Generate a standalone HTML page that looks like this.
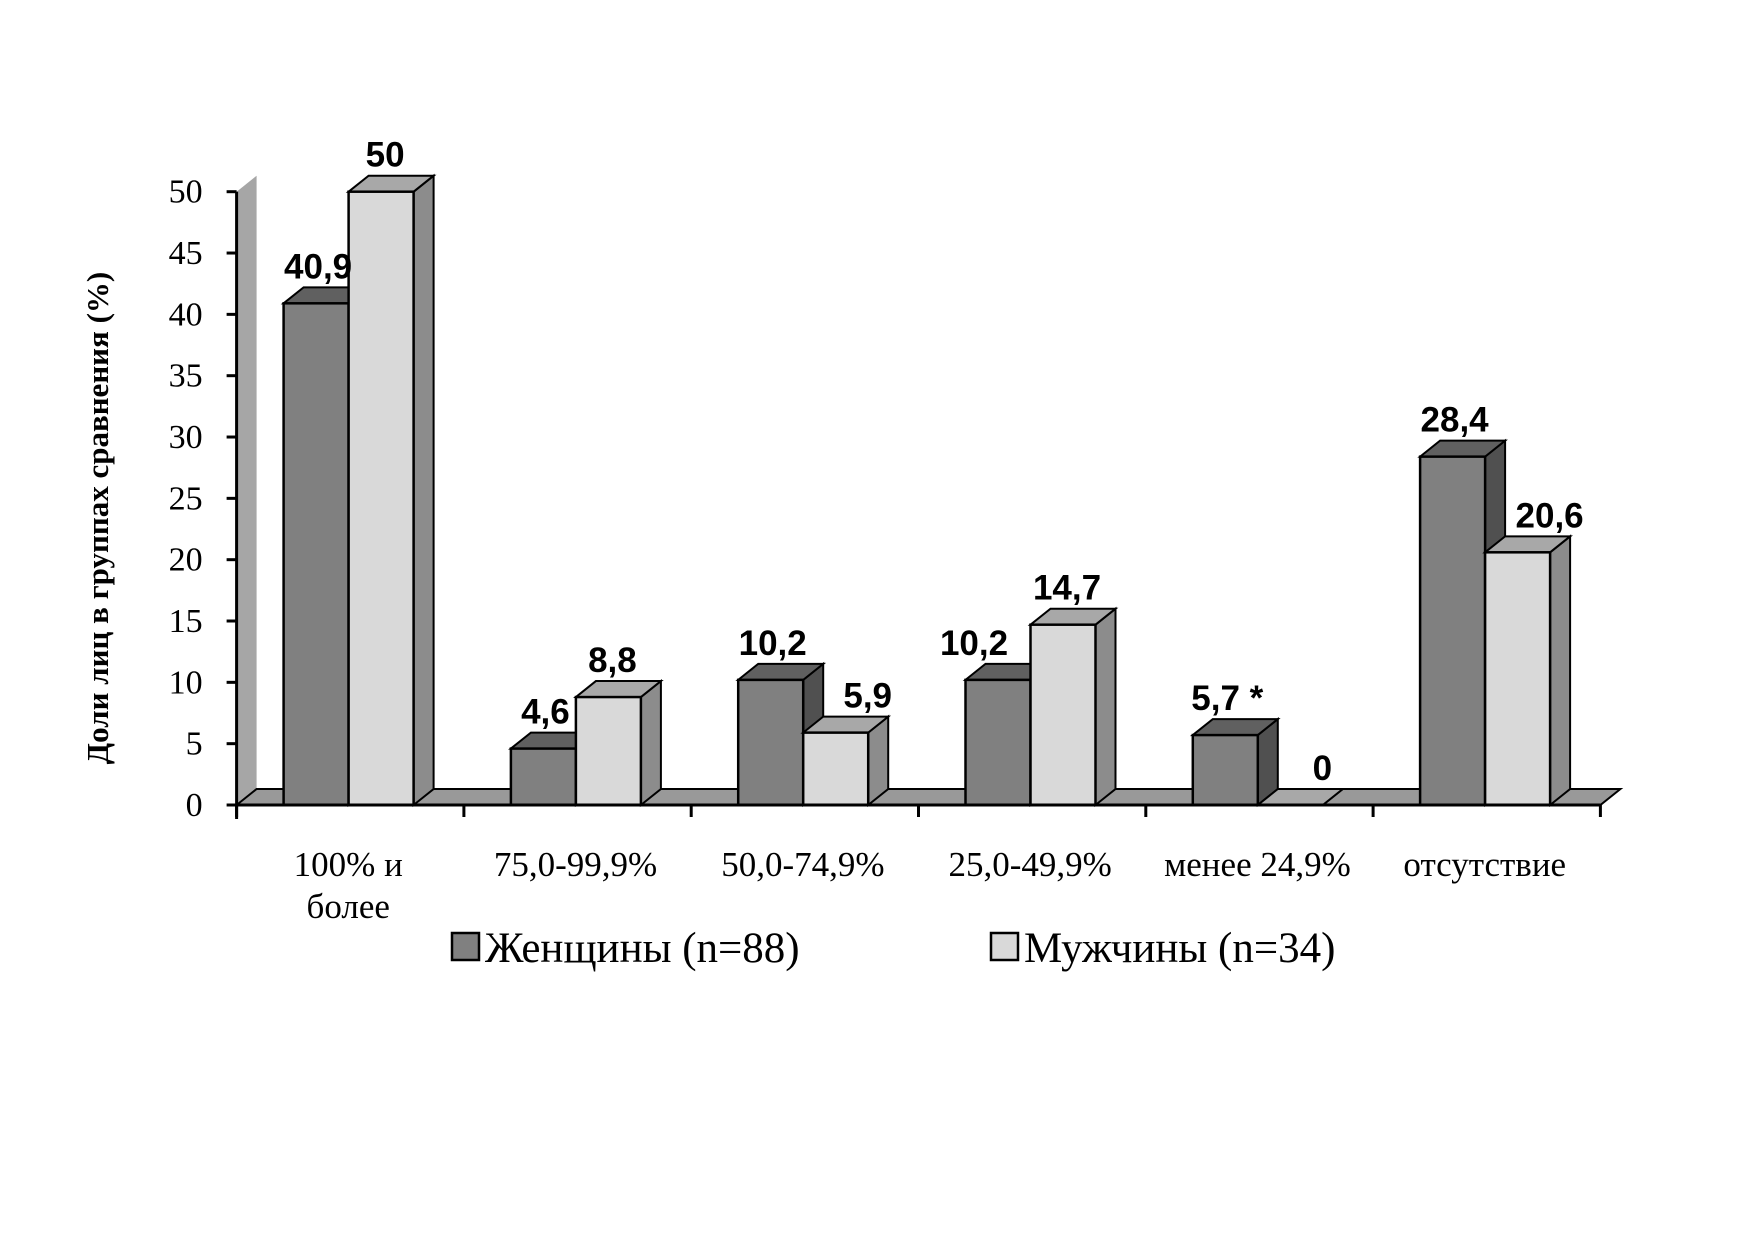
<!DOCTYPE html>
<html><head><meta charset="utf-8">
<style>
html,body{margin:0;padding:0;background:#fff;}
svg{display:block;}
</style></head>
<body>
<svg id="chart" width="1749" height="1241" viewBox="0 0 1749 1241" xmlns="http://www.w3.org/2000/svg"></svg>
<script>
const categories = [["100% и","более"],["75,0-99,9%"],["50,0-74,9%"],["25,0-49,9%"],["менее 24,9%"],["отсутствие"]];
const women = [40.9, 4.6, 10.2, 10.2, 5.7, 28.4];
const men = [50, 8.8, 5.9, 14.7, 0, 20.6];
const womenLabels = ["40,9","4,6","10,2","10,2","5,7 *","28,4"];
const menLabels = ["50","8,8","5,9","14,7","0","20,6"];
const yTicks = [0,5,10,15,20,25,30,35,40,45,50];

const svg = document.getElementById('chart');
const NS = 'http://www.w3.org/2000/svg';
const X0 = 236.6, CW = 227.3, Y0 = 805, YMAX = 50, YH = 805 - 191.7;
const DX = 20, DY = 16, BW = 65, OFF = 47;
function y(v){ return Y0 - v / YMAX * YH; }
function catX(i){ return X0 + i * CW; }
function el(tag, attrs, parent){
  const e = document.createElementNS(NS, tag);
  for (const k in attrs) e.setAttribute(k, attrs[k]);
  (parent || svg).appendChild(e);
  return e;
}
const F = '"Liberation Serif", "DejaVu Serif", serif';
const FS = '"Liberation Sans", "DejaVu Sans", sans-serif';

const wall = el('polygon', {points:`${X0},${Y0} ${X0+DX},${Y0-DY} ${X0+DX},${y(YMAX)-DY} ${X0},${y(YMAX)}`, fill:'#a6a6a6'});


const xEnd = catX(categories.length);
const floor = el('polygon', {points:`${X0},${Y0} ${X0+DX},${Y0-DY} ${xEnd+DX},${Y0-DY} ${xEnd},${Y0}`, fill:'#999', stroke:'#000', 'stroke-width':2});



function bar(x, v, front, top, side, name){
  const g = el('g', {});
  
  
  const yt = y(v);
  el('polygon', {points:`${x+BW},${Y0} ${x+BW+DX},${Y0-DY} ${x+BW+DX},${yt-DY} ${x+BW},${yt}`, fill:side, stroke:'#000','stroke-width':2}, g);
  el('polygon', {points:`${x},${yt} ${x+DX},${yt-DY} ${x+BW+DX},${yt-DY} ${x+BW},${yt}`, fill:top, stroke:'#000','stroke-width':2}, g);
  if (v > 0) el('rect', {x:x, y:yt, width:BW, height:Y0-yt, fill:front, stroke:'#000','stroke-width':2.5}, g);
}
function label(cx, v, txt, name){
  const t = el('text', {x:cx, y:y(v)-DY-9, 'text-anchor':'middle', 'font-family':FS, 'font-weight':'bold', 'font-size':35, fill:'#000'});
  t.textContent = txt;
  
  
}
for (let i = 0; i < categories.length; i++){
  const xw = catX(i) + OFF, xm = xw + BW;
  bar(xw, women[i], '#808080', '#606060', '#505050', 'bar-women-' + i);
  bar(xm, men[i], '#d9d9d9', '#a8a8a8', '#8c8c8c', 'bar-men-' + i);
  const d = men[i] - women[i];
  const wShift = (d > 4.4 && d < 8) ? -26 : 0;
  const mShift = women[i] > men[i] ? 28 : 0;
  label(xw + BW/2 + 2 + wShift, women[i], womenLabels[i], 'value-women-' + i);
  label(xm + BW/2 + 4 + mShift, men[i], menLabels[i], 'value-men-' + i);
  categories[i].forEach((ln, j) => {
    const t = el('text', {x:catX(i) + CW/2 - 2, y:876 + j*42, 'text-anchor':'middle', 'font-family':F, 'font-size':35, fill:'#000'});
    t.textContent = ln;
    
    
  });
}
el('line', {x1:X0, y1:y(YMAX), x2:X0, y2:Y0+14, stroke:'#000','stroke-width':3});
el('line', {x1:X0, y1:Y0, x2:xEnd, y2:Y0, stroke:'#000','stroke-width':3});
for (let i = 0; i <= categories.length; i++){
  el('line', {x1:catX(i), y1:Y0, x2:catX(i), y2:Y0+12, stroke:'#000','stroke-width':3});
}
yTicks.forEach(v => {
  el('line', {x1:X0-10, y1:y(v), x2:X0, y2:y(v), stroke:'#000','stroke-width':3});
  const t = el('text', {x:X0-34, y:y(v)+11, 'text-anchor':'end', 'font-family':F, 'font-size':34, fill:'#000'});
  t.textContent = v;
  
  
});
const yt = el('text', {x:0, y:0, transform:'translate(108,518) rotate(-90)', 'text-anchor':'middle', 'font-family':F, 'font-weight':'bold', 'font-size':31, fill:'#000'});
yt.textContent = 'Доли лиц в группах сравнения (%)';



function legend(x, fill, txt, name){
  const g = el('g', {});
  
  
  el('rect', {x:x, y:933, width:27, height:27, fill:fill, stroke:'#000','stroke-width':2.5}, g);
  const t = el('text', {x:x+33, y:962, 'font-family':F, 'font-size':43, fill:'#000'}, g);
  t.textContent = txt;
}
legend(452, '#808080', 'Женщины (n=88)', 'legend-women');
legend(991, '#d9d9d9', 'Мужчины (n=34)', 'legend-men');
</script>
</body></html>
